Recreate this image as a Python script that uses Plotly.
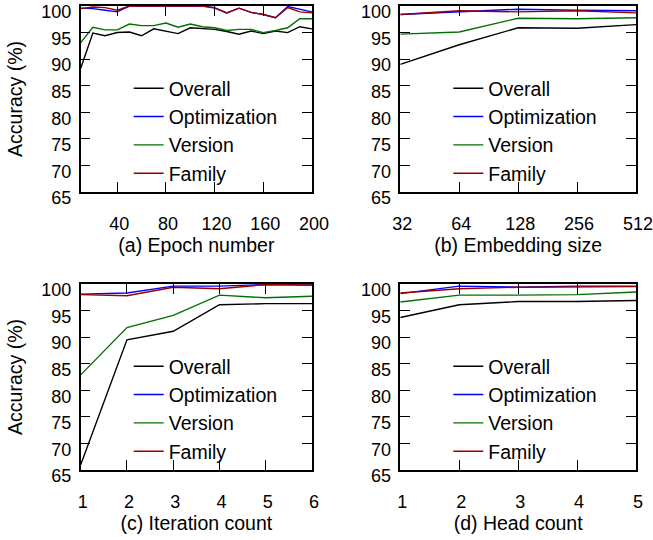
import plotly.graph_objects as go

# ---- data ----
series_names = ["Overall", "Optimization", "Version", "Family"]
series_colors = ["#000000", "#0000ff", "#007000", "#990000"]

epochs = [10, 20, 30, 40, 50, 60, 70, 80, 90, 100, 110, 120, 130, 140, 150, 160, 170, 180, 190, 200]
epoch_overall = [88.3, 94.9, 94.4, 95.0, 95.1, 94.4, 95.7, 95.3, 94.8, 95.9, 95.7, 95.6, 95.2, 94.7, 95.3, 94.8, 95.3, 95.0, 96.1, 95.7]
epoch_optim = [99.6, 99.5, 99.2, 98.9, 100, 100, 100, 100, 100, 100, 100, 99.7, 98.7, 99.6, 98.8, 98.4, 97.8, 99.9, 99.4, 98.9]
epoch_version = [93.1, 96.0, 95.5, 95.5, 96.6, 96.3, 96.3, 96.8, 96.0, 96.6, 96.1, 95.9, 95.4, 95.6, 95.6, 95.0, 95.4, 95.9, 97.6, 97.6]
epoch_family = [99.5, 99.8, 99.7, 99.2, 100, 100, 100, 100, 100, 100, 100, 99.6, 98.7, 99.6, 98.8, 98.4, 97.8, 99.7, 98.9, 98.7]

emb_sizes = [32, 64, 128, 256, 512]
emb_overall = [89.0, 92.7, 95.9, 95.8, 96.5]
emb_optim = [98.4, 98.9, 99.4, 99.2, 99.1]
emb_version = [94.7, 95.1, 97.7, 97.6, 97.8]
emb_family = [98.4, 99.1, 98.9, 99.1, 98.7]

iters = [1, 2, 3, 4, 5, 6]
iter_overall = [66.0, 89.5, 91.1, 96.1, 96.3, 96.3]
iter_optim = [98.1, 98.3, 99.6, 99.6, 99.9, 99.8]
iter_version = [82.9, 91.8, 94.1, 97.9, 97.4, 97.7]
iter_family = [98.0, 97.8, 99.4, 99.1, 99.9, 99.8]

heads = [1, 2, 3, 4, 5]
head_overall = [93.7, 96.1, 96.7, 96.7, 96.9]
head_optim = [98.2, 99.6, 99.4, 99.6, 99.6]
head_version = [96.6, 97.9, 97.9, 98.0, 98.5]
head_family = [98.3, 99.1, 99.4, 99.5, 99.5]

y_ticks = [65, 70, 75, 80, 85, 90, 95, 100]
epoch_ticks = [40, 80, 120, 160, 200]
emb_ticks = [32, 64, 128, 256, 512]
iter_ticks = [1, 2, 3, 4, 5, 6]
head_ticks = [1, 2, 3, 4, 5]

titles = ["(a) Epoch number", "(b) Embedding size", "(c) Iteration count", "(d) Head count"]

# ---- figure ----
W, H = 653, 540
FONT = "Liberation Sans, Arial, Helvetica, sans-serif"

panels = [
    (epochs, [epoch_overall, epoch_optim, epoch_version, epoch_family]),
    (emb_sizes, [emb_overall, emb_optim, emb_version, emb_family]),
    (iters, [iter_overall, iter_optim, iter_version, iter_family]),
    (heads, [head_overall, head_optim, head_version, head_family]),
]

fig = go.Figure()
legend_ids = ["legend", "legend2", "legend3", "legend4"]
for p, (xs, ys_list) in enumerate(panels):
    suffix = "" if p == 0 else str(p + 1)
    for name, color, ys in zip(series_names, series_colors, ys_list):
        fig.add_trace(go.Scatter(
            x=xs, y=ys, mode="lines", name=name,
            line=dict(color=color, width=1.4),
            xaxis="x" + suffix, yaxis="y" + suffix,
            legend=legend_ids[p], showlegend=True, cliponaxis=True,
        ))

# pixel geometry of plot areas
left_x = (80.7, 312.0)
right_x = (400.3, 636.0)
top_y = (6.0, 192.0)
bot_y = (284.0, 470.0)

def xdom(px):
    return [px[0] / W, px[1] / W]

def ydom(py):
    return [(H - py[1]) / H, (H - py[0]) / H]

boxes = [(left_x, top_y), (right_x, top_y), (left_x, bot_y), (right_x, bot_y)]
xranges = [[10, 200], [1.50515, 2.70927], [1, 6], [1, 5]]
xtickvals = [epoch_ticks, emb_ticks, iter_ticks, head_ticks]
xtypes = ["linear", "log", "linear", "linear"]

axis_common = dict(
    showline=True, linecolor="black", linewidth=1.5, mirror="ticks",
    ticks="inside", ticklen=10, tickwidth=1, tickcolor="black",
    showgrid=False, zeroline=False, automargin=False,
    ticklabeloverflow="allow",
    tickfont=dict(family=FONT, size=18, color="black"),
)

layout = dict(
    template="none",
    width=W, height=H, margin=dict(l=0, r=0, t=0, b=0, autoexpand=False),
    paper_bgcolor="white", plot_bgcolor="white",
    font=dict(family=FONT, size=18, color="black"),
)

for p, ((xp, yp), xr, tv, xt, title) in enumerate(zip(boxes, xranges, xtickvals, xtypes, titles)):
    suffix = "" if p == 0 else str(p + 1)
    layout["xaxis" + suffix] = dict(
        axis_common, domain=xdom(xp), range=xr, type=xt,
        tickvals=tv, ticktext=[str(v) for v in tv],
        anchor="y" + suffix, ticklabelstandoff=15, ticklabelshift=2,
        title=dict(text=title, standoff=2, font=dict(family=FONT, size=19.5, color="black")),
    )
    ydict = dict(
        axis_common, domain=ydom(yp), range=[65, 100],
        tickvals=y_ticks, anchor="x" + suffix, ticklabelstandoff=4, ticklabelshift=6,
    )
    if p in (0, 2):
        ydict["title"] = dict(text="Accuracy (%)", standoff=13, font=dict(family=FONT, size=19.5, color="black"))
    layout["yaxis" + suffix] = ydict

    # legend
    legend_left_px = xp[0] + 48
    legend_top_px = yp[0] + 63
    layout[legend_ids[p]] = dict(
        x=legend_left_px / W, y=(H - legend_top_px) / H,
        xanchor="left", yanchor="top", xref="paper", yref="paper",
        bgcolor="rgba(0,0,0,0)", borderwidth=0,
        font=dict(family=FONT, size=19.5, color="black"),
        itemwidth=30, tracegroupgap=0,
    )

fig.update_layout(**layout)
fig.write_html(
    "out.html",
    config={"displayModeBar": False},
    post_script="document.body.style.margin='0';document.body.style.padding='0';"
                "document.documentElement.style.overflow='hidden';",
)
